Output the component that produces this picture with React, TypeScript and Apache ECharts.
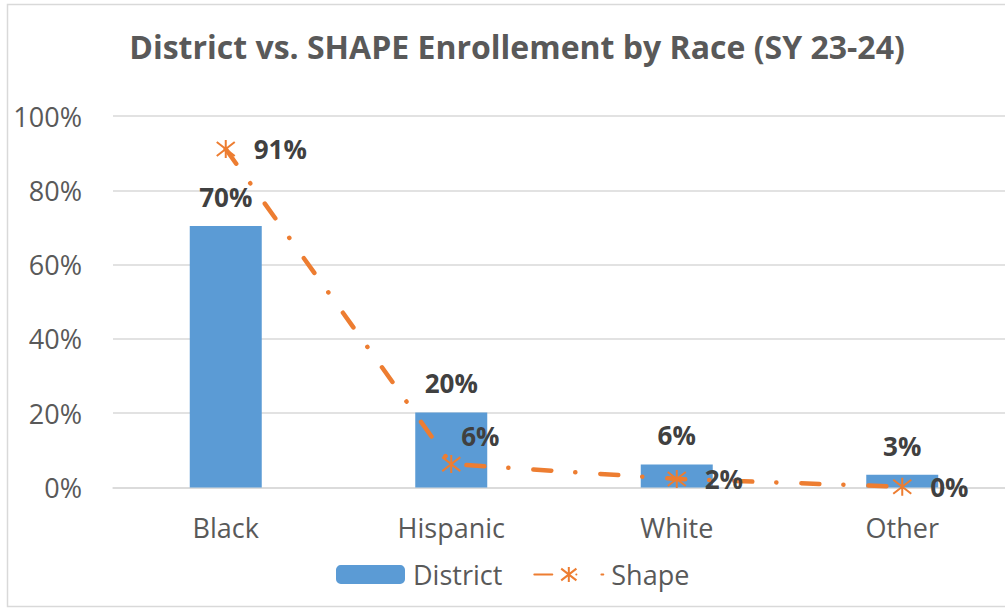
import React, { useEffect, useRef } from "react";
import * as echarts from "echarts";

const categories = ["Black", "Hispanic", "White", "Other"];
const districtValues = [70.4, 20.2, 6.2, 3.4];
const shapeValues = [91.1, 6.3, 2.3, 0.2];
const yTicks = { min: 0, max: 100, interval: 20 };
const title = "District vs. SHAPE Enrollement by Race (SY 23-24)";

const FONT = "'Open Sans', sans-serif";
const ASTERISK = "path://M9,0L9,18M2,2L16,16M2,16L16,2";

export default function App() {
  const ref = useRef<HTMLDivElement>(null);
  useEffect(() => {
    if (!ref.current) return;
    const chart = echarts.init(ref.current, null, { renderer: "svg" });
    const pct = (p: any) => Math.round(p.value) + "%";
    chart.setOption({
      animation: false,
      backgroundColor: "#ffffff",
      textStyle: { fontFamily: FONT },
      title: {
        text: title,
        left: 512,
        textAlign: "center",
        top: 25,
        textStyle: { fontFamily: FONT, fontWeight: "bold", fontSize: 32, color: "#595959" },
      },
      graphic: [
        {
          type: "rect",
          shape: { x: 7.5, y: 4.5, width: 1100, height: 602 },
          style: { fill: "none", stroke: "#D9D9D9", lineWidth: 1.5 },
          silent: true,
        },
      ],
      legend: {
        top: 561,
        left: 336,
        padding: 0,
        itemWidth: 69,
        itemHeight: 19,
        itemGap: 31,
        textStyle: { fontFamily: FONT, fontSize: 27, color: "#595959", padding: [0, 0, 0, 3] },
        data: ["District", "Shape"],
      },
      grid: { left: 113, top: 116, right: 0, height: 371.5, containLabel: false },
      xAxis: {
        type: "category",
        data: categories,
        axisTick: { show: false },
        axisLine: { lineStyle: { color: "#D9D9D9", width: 1.5 } },
        axisLabel: { fontFamily: FONT, fontSize: 27, color: "#595959", margin: 26 },
      },
      yAxis: {
        type: "value",
        min: yTicks.min,
        max: yTicks.max,
        interval: yTicks.interval,
        axisLine: { show: false },
        axisTick: { show: false },
        splitLine: { lineStyle: { color: "#D9D9D9", width: 1.5 } },
        axisLabel: { fontFamily: FONT, fontSize: 27, color: "#595959", margin: 31, formatter: "{value}%" },
      },
      series: [
        {
          name: "District",
          type: "bar",
          data: districtValues,
          barWidth: 72,
          itemStyle: { color: "#5B9BD5" },
          label: {
            show: true,
            position: "top",
            distance: 16,
            formatter: pct,
            fontFamily: FONT,
            fontWeight: "bold",
            fontSize: 26,
            color: "#404040",
          },
        },
        {
          name: "Shape",
          type: "line",
          data: shapeValues.map((v, i) =>
            i === 1 ? { value: v, label: { offset: [-18, -28] } } : v
          ),
          symbol: ASTERISK,
          symbolSize: 18,
          itemStyle: { color: "#ED7D31", borderColor: "#ED7D31", borderWidth: 2 },
          lineStyle: { color: "#ED7D31", width: 4.5, type: [18, 24, 0.1, 25], cap: "round" },
          z: 5,
          label: {
            show: true,
            position: "right",
            distance: 18,
            formatter: pct,
            fontFamily: FONT,
            fontWeight: "bold",
            fontSize: 26,
            color: "#404040",
          },
        },
      ],
    });
    return () => chart.dispose();
  }, []);
  return (
    <div
      style={{ position: "absolute", left: 0, top: 0, width: 1005, height: 608, overflow: "hidden" }}
    >
      <div ref={ref} style={{ width: 1015, height: 608 }} />
    </div>
  );
}
